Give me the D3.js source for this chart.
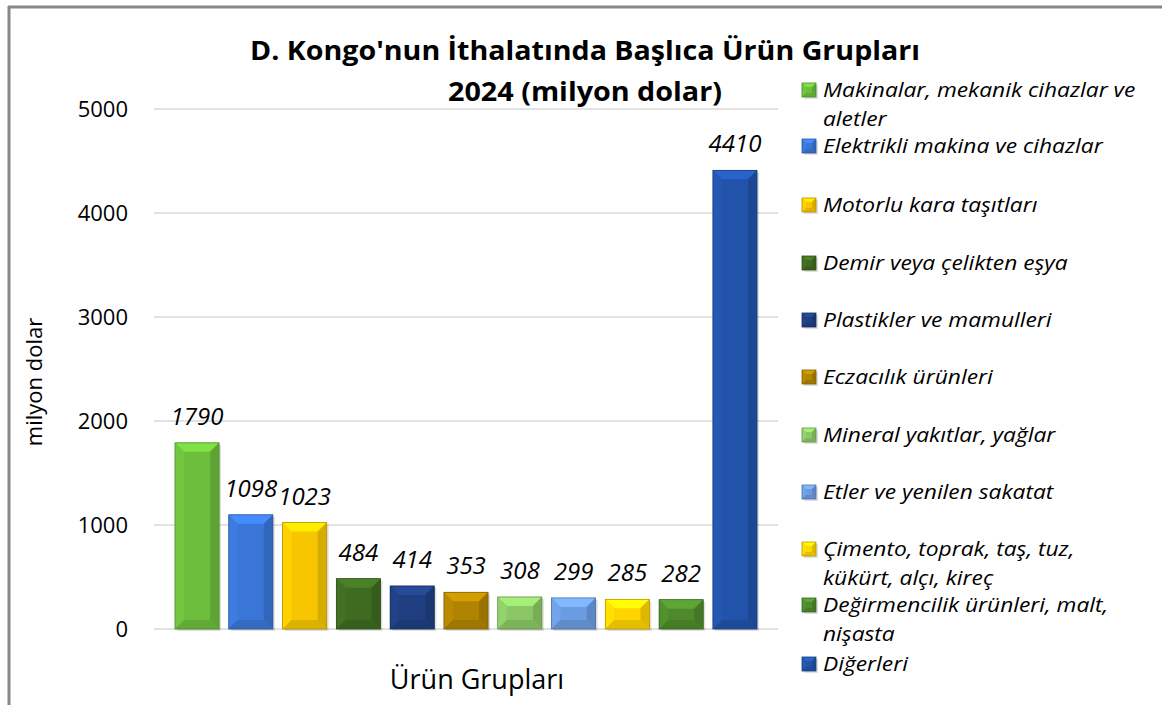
<!DOCTYPE html>
<html><head><meta charset="utf-8">
<script src="https://cdn.jsdelivr.net/npm/d3@7"></script>
<style>body{margin:0;background:#fff}svg{display:block;font-family:"Open Sans",sans-serif}</style>
</head><body><svg id="c" width="1162" height="705"></svg>
<script>
const categories = ["Makinalar, mekanik cihazlar ve aletler","Elektrikli makina ve cihazlar","Motorlu kara taşıtları","Demir veya çelikten eşya","Plastikler ve mamulleri","Eczacılık ürünleri","Mineral yakıtlar, yağlar","Etler ve yenilen sakatat","Çimento, toprak, taş, tuz, kükürt, alçı, kireç","Değirmencilik ürünleri, malt, nişasta","Diğerleri"];
const legendLines = [["Makinalar, mekanik cihazlar ve","aletler"],["Elektrikli makina ve cihazlar"],["Motorlu kara taşıtları"],["Demir veya çelikten eşya"],["Plastikler ve mamulleri"],["Eczacılık ürünleri"],["Mineral yakıtlar, yağlar"],["Etler ve yenilen sakatat"],["Çimento, toprak, taş, tuz,","kükürt, alçı, kireç"],["Değirmencilik ürünleri, malt,","nişasta"],["Diğerleri"]];
const values = [1790,1098,1023,484,414,353,308,299,285,282,4410];
const colors = ["#6cbd3c","#3a76d6","#f7c600","#3e6b20","#1f3f80","#b08400","#8bc865","#6b9be0","#ffd400","#4e8a2c","#2153aa"];
const yTicks = [0,1000,2000,3000,4000,5000];
const title1 = "D. Kongo'nun İthalatında Başlıca Ürün Grupları";
const title2 = "2024 (milyon dolar)";

const svg = d3.select("#c");
// frame
svg.append("line").attr("x1",9).attr("x2",9).attr("y1",6).attr("y2",705).attr("stroke","#888").attr("stroke-width",3);
svg.append("line").attr("x1",8).attr("x2",1162).attr("y1",7).attr("y2",7).attr("stroke","#888").attr("stroke-width",3);

const x = d3.scaleBand().domain(d3.range(values.length)).range([154,778]).paddingInner(0.18).paddingOuter(0.39);
const y = d3.scaleLinear().domain([0,5000]).range([629,109]);

// grid
svg.append("g").selectAll("line").data(yTicks).join("line")
  .attr("x1",154).attr("x2",778).attr("y1",d=>y(d)).attr("y2",d=>y(d))
  .attr("stroke","#d9d9d9").attr("stroke-width",1.3);

// y axis labels
svg.append("g").selectAll("text").data(yTicks).join("text")
  .attr("x",128).attr("y",d=>y(d)).attr("dy","0.36em").attr("text-anchor","end")
  .attr("font-size",22).attr("fill","#000").text(d=>d);

svg.append("text").attr("transform","translate(42,382) rotate(-90)").attr("text-anchor","middle")
  .attr("font-size",22).attr("fill","#000").text("milyon dolar");
svg.append("text").attr("x",477).attr("y",689).attr("text-anchor","middle").attr("font-size",27).attr("fill","#000").text("Ürün Grupları");

// title
svg.append("text").attr("x",585).attr("y",60).attr("text-anchor","middle").attr("font-size",27).attr("font-weight","bold")
  .attr("textLength",670).attr("lengthAdjust","spacingAndGlyphs").text(title1);
svg.append("text").attr("x",585).attr("y",101).attr("text-anchor","middle").attr("font-size",27).attr("font-weight","bold")
  .attr("textLength",274).attr("lengthAdjust","spacingAndGlyphs").text(title2);

function bevelBar(g, x0, y0, w, h, col, b){
  const c = d3.color(col);
  g.append("rect").attr("x",x0+2).attr("y",y0+2).attr("width",w).attr("height",h).attr("fill","rgba(0,0,0,0.12)");
  g.append("rect").attr("x",x0).attr("y",y0).attr("width",w).attr("height",h).attr("fill",col);
  const bb = Math.min(b, h/2, w/2);
  const x1=x0+w, y1=y0+h;
  g.append("polygon").attr("points",[[x0,y0],[x1,y0],[x1-bb,y0+bb],[x0+bb,y0+bb]].join(" ")).attr("fill",c.brighter(0.5));
  g.append("polygon").attr("points",[[x0,y0],[x0+bb,y0+bb],[x0+bb,y1-bb],[x0,y1]].join(" ")).attr("fill",c.brighter(0.15));
  g.append("polygon").attr("points",[[x1,y0],[x1,y1],[x1-bb,y1-bb],[x1-bb,y0+bb]].join(" ")).attr("fill",c.darker(0.4));
  g.append("polygon").attr("points",[[x0,y1],[x0+bb,y1-bb],[x1-bb,y1-bb],[x1,y1]].join(" ")).attr("fill",c.darker(0.3));
  g.append("rect").attr("x",x0).attr("y",y0).attr("width",w).attr("height",h).attr("fill","none").attr("stroke",c.darker(0.9)).attr("stroke-width",0.8);
}

const bars = svg.append("g");
values.forEach((v,i)=>{
  const g = bars.append("g");
  bevelBar(g, x(i), y(v), x.bandwidth(), y(0)-y(v), colors[i], 9);
});

svg.append("g").selectAll("text").data(values).join("text")
  .attr("x",(d,i)=>x(i)+x.bandwidth()/2).attr("y",d=>y(d)-18).attr("text-anchor","middle")
  .attr("font-size",24).attr("font-style","italic").attr("fill","#000").text(d=>d);

// legend
const legTops = [90,146,205,263,320,377,435,492,549,605,664];
const leg = svg.append("g");
legendLines.forEach((lines,i)=>{
  const yy = legTops[i];
  const g = leg.append("g");
  bevelBar(g, 802, yy-7, 14, 14, colors[i], 4);
  lines.forEach((t,j)=>{
    const tx = g.append("text").attr("x",823).attr("y",yy+7+j*29).attr("font-size",20.5).attr("font-style","italic").attr("fill","#000").text(t);
    const w = tx.node().getComputedTextLength();
    tx.attr("textLength", w*1.11).attr("lengthAdjust","spacingAndGlyphs");
  });
});
</script></body></html>
